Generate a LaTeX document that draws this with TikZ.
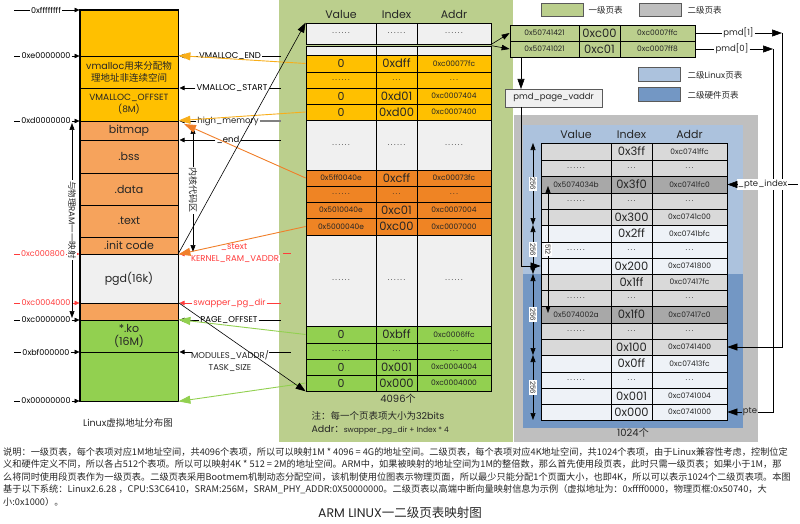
\documentclass[tikz,border=0pt]{standalone}
\usepackage{fontspec}
\setmainfont{Poppins}
\newfontfamily\zh{Noto Sans CJK SC}
\usetikzlibrary{arrows.meta}

\definecolor{panelgreen}{HTML}{BBCF8D}
\definecolor{vmyellow}{HTML}{FFC000}
\definecolor{krnorange}{HTML}{F6A35C}
\definecolor{pteorange}{HTML}{EF8424}
\definecolor{usergreen}{HTML}{92D050}
\definecolor{cellgray}{HTML}{F0F0F0}
\definecolor{panelgray}{HTML}{BFBFBF}
\definecolor{linuxblue}{HTML}{ACC2DD}
\definecolor{hwblue}{HTML}{7397C4}
\definecolor{rowgray}{HTML}{D9D9D9}
\definecolor{rowlight}{HTML}{EEF2F7}
\definecolor{rowdark}{HTML}{A8A8A8}
\definecolor{lblred}{HTML}{FF3B3B}
\definecolor{linkyellow}{HTML}{F8AE1A}
\definecolor{linkorange}{HTML}{F07F2A}
\definecolor{linkgreen}{HTML}{92D050}
\definecolor{boxedge}{HTML}{5A5A5A}

\newcommand\fsz[1]{\fontsize{#1}{#1}\selectfont}

% one block of the virtual address column
\newcommand\colcell[6][]{%
  \node[colcell,#1,fill=#5,minimum height={(#4-#3)*1pt}] (#2) at (129,{(#3+#4)/2}) {#6};}

% one row of the first-level table
\newcommand\mrow[7]{%
  \node[tcell,fill=#4,minimum width=70pt,minimum height={(#3-#2)*1pt}] (#1v) at (341,{(#2+#3)/2}) {#5};
  \node[tcell,fill=#4,minimum width=41pt,minimum height={(#3-#2)*1pt},font=\fsz{11.5}] (#1i) at (396.5,{(#2+#3)/2}) {#6};
  \node[tcell,fill=#4,minimum width=74pt,minimum height={(#3-#2)*1pt}] (#1a) at (454,{(#2+#3)/2}) {#7};}

% one row of the second-level table
\newcommand\rrow[7]{%
  \node[tcell,fill=#4,minimum width=70pt,minimum height={(#3-#2)*1pt}] (#1v) at (576,{(#2+#3)/2}) {#5};
  \node[tcell,fill=#4,minimum width=41pt,minimum height={(#3-#2)*1pt},font=\fsz{11.5}] (#1i) at (631.5,{(#2+#3)/2}) {#6};
  \node[tcell,fill=#4,minimum width=75pt,minimum height={(#3-#2)*1pt}] (#1a) at (689.5,{(#2+#3)/2}) {#7};}

% one row of the pmd pair
\newcommand\prow[5]{%
  \node[tcell,fill=panelgreen,minimum width=69pt,minimum height=16pt] (#1v) at (544.5,#2) {#3};
  \node[tcell,fill=panelgreen,minimum width=41pt,minimum height=16pt,font=\fsz{11.5}] (#1i) at (599.5,#2) {#4};
  \node[tcell,fill=panelgreen,minimum width=75pt,minimum height=16pt] (#1a) at (657.5,#2) {#5};}

% address mark on the left of the column
\newcommand\laddr[5]{%
  \node[addrlbl,text=#4] (#1) at (#3,#2) {#5};
  \coordinate (#1s) at (14,#2);
  \coordinate (#1t) at (79.5,#2);
  \draw[#4,thinline] (#1s) -- (#1.west);
  \draw[#4,thinline,lbltip] (#1.east) -- (#1t);}

% symbol mark on the right of the column
\newcommand\rlab[6]{%
  \node[rlbl,text=#4] (#1) at (#3,#2) {#6};
  \coordinate (#1e) at (#5,#2);
  \coordinate (#1t) at (179.5,#2);
  \draw[#4,thinline] (#1.east) -- (#1e);
  \draw[#4,thinline,lbltip] (#1.west) -- (#1t);}

% span arrow with a rotated count beside the second-level table
\newcommand\entryspan[5]{%
  \coordinate (#1a) at (#2,#3);
  \coordinate (#1b) at (#2,#4);
  \draw[thinline,dimtip] (#1a) -- (#1b);
  \node[vtext,font=\fsz{7}] (#1l) at (#2,{(#3+#4)/2}) {#5};}

\newcommand\dts{{\fsz{7.5}.\kern1.6pt.\kern1.6pt.}}
\newcommand\sixdots{{\fsz{7.5}.\kern1.6pt.\kern1.6pt.\kern1.6pt.\kern1.6pt.\kern1.6pt.}}

\begin{document}
\begin{tikzpicture}[x=1pt,y=-1pt,
  every node/.style={text=black!85},
  colcell/.style={draw=black,line width=0.8pt,minimum width=98pt,inner sep=0pt,align=center,font=\fsz{11}},
  tcell/.style={draw=black,line width=0.7pt,inner sep=0pt,font=\fsz{7.5}},
  addrlbl/.style={inner sep=1pt,font=\fsz{8}},
  rlbl/.style={inner sep=1pt,font=\fsz{8.5}},
  thinline/.style={line width=0.6pt},
  lbltip/.style={-{Triangle[length=5pt,width=4.5pt]}},
  blktip/.style={-{Triangle[length=10pt,width=7pt]}},
  smltip/.style={-{Triangle[length=8pt,width=5.5pt]}},
  link/.style={line width=0.9pt,-{Triangle[length=12pt,width=8pt]}},
  dimtip/.style={{Triangle[length=7pt,width=5pt]}-{Triangle[length=7pt,width=5pt]}},
  legbox/.style={draw=boxedge,line width=0.8pt,minimum width=42pt,minimum height=13pt,inner sep=0pt},
  hdr/.style={font=\fsz{11}},
  vtext/.style={fill=white,inner sep=1pt,rotate=-90},
]
\useasboundingbox (0,0) rectangle (800,524);

% ---------- background panels ----------
\fill[panelgreen] (279,0) rectangle (513,442);
\fill[panelgray] (514,115) rectangle (758,442);
\fill[linuxblue] (523,125) rectangle (743,274);
\fill[hwblue] (523,274) rectangle (743,428);

% ---------- first-level table ----------
\node[hdr] (fh1) at (341,14) {Value};
\node[hdr] (fh2) at (396.5,14) {Index};
\node[hdr] (fh3) at (454,14) {Addr};
\mrow{ma}{23}{44}{cellgray}{\sixdots}{\sixdots}{\sixdots}
\mrow{mb}{46}{55}{cellgray}{}{}{}
\mrow{mc}{55}{72}{vmyellow}{\fsz{11}0}{0xdff}{0xc00077fc}
\mrow{md}{72}{88}{vmyellow}{\sixdots}{\dts}{\dts}
\mrow{me}{88}{104}{vmyellow}{\fsz{11}0}{0xd01}{0xc0007404}
\mrow{mf}{104}{120}{vmyellow}{\fsz{11}0}{0xd00}{0xc0007400}
\mrow{mg}{120}{170}{cellgray}{\sixdots}{\sixdots}{\sixdots}
\mrow{mh}{170}{186}{pteorange}{0x5ff0040e}{0xcff}{0xc00073fc}
\mrow{mi}{186}{202}{pteorange}{\sixdots}{\dts}{\dts}
\mrow{mj}{202}{218}{pteorange}{0x5010040e}{0xc01}{0xc0007004}
\mrow{mk}{218}{235}{pteorange}{0x5000040e}{0xc00}{0xc0007000}
\mrow{ml}{235}{326}{cellgray}{\sixdots}{\sixdots}{\sixdots}
\mrow{mm}{326}{343}{usergreen}{\fsz{11}0}{0xbff}{0xc0006ffc}
\mrow{mn}{343}{359}{usergreen}{\sixdots}{\dts}{\dts}
\mrow{mo}{359}{375}{usergreen}{\fsz{11}0}{0x001}{0xc0004004}
\mrow{mp}{375}{391}{usergreen}{\fsz{11}0}{0x000}{0xc0004000}
\node[font=\fsz{10}] (mcount) at (398,399) {4096{\zh 个}};
\node[anchor=west,font=\fsz{9.5}] (mnote) at (308,416) {{\zh 注：每一个页表项大小为}32bits};
\node[anchor=west,font=\fsz{9.5}] (maddr) at (308,430) {Addr{\zh ：}{\fsz{7.5}swapper\_pg\_dir + Index * 4}};

% ---------- virtual address column ----------
\colcell{ctop}{10}{56}{vmyellow}{}
\colcell[font=\fontsize{9.5}{12}\selectfont]{vmc}{56}{88}{vmyellow}{vmalloc{\zh 用来分配物}\\{\zh 理地址非连续空间}}
\colcell[font=\fontsize{9}{12}\selectfont]{voff}{88}{121}{vmyellow}{VMALLOC\_OFFSET\\(8M)}
\colcell{bmp}{121}{140}{krnorange}{bitmap}
\colcell{bss}{140}{173}{krnorange}{.bss}
\colcell{dat}{173}{205}{krnorange}{.data}
\colcell{txt}{205}{237}{krnorange}{.text}
\colcell{ini}{237}{254}{krnorange}{.init code}
\colcell{pgd}{254}{303}{cellgray}{pgd(16k)}
\colcell{pgl}{303}{320}{krnorange}{}
\colcell[font=\fontsize{11}{13}\selectfont]{kmo}{320}{352}{usergreen}{*.ko\\(16M)}
\colcell{usr}{352}{401}{usergreen}{}
\draw[line width=1.8pt] (ctop.north west) rectangle (usr.south east);
\draw[line width=1.8pt] (kmo.south west) -- (kmo.south east);
\node[font=\fsz{9.5}] (colcap) at (128,423) {Linux{\zh 虚拟地址分布图}};

% ---------- addresses on the left ----------
\laddr{aff}{10}{46}{black}{0xffffffff}
\laddr{ae0}{56}{46}{black}{0xe0000000}
\laddr{ad0}{121}{46}{black}{0xd0000000}
\laddr{a08}{254}{43}{lblred}{0xc000800}
\laddr{a04}{303}{46}{lblred}{0xc0004000}
\laddr{ac0}{320}{46}{black}{0xc0000000}
\laddr{abf}{352}{46}{black}{0xbf000000}
\laddr{a00}{401}{46}{black}{0x00000000}

\coordinate (rmt) at (72,123);
\coordinate (rmb) at (72,318);
\draw[thinline,dimtip] (rmt) -- (rmb);
\node[vtext,font=\fsz{8.5}] (rmlbl) at (72,220) {{\zh 与物理}RAM{\zh 一一映射}};
\coordinate (kct) at (193,127);
\coordinate (kcb) at (193,252);
\draw[thinline,dimtip] (kct) -- (kcb);
\node[vtext,font=\fsz{9}] (kclbl) at (193,190) {{\zh 内核代码区}};

% ---------- symbols on the right ----------
\rlab{lve}{56}{230}{black}{281}{VMALLOC\_END}
\rlab{lvs}{88}{232}{black}{281}{VMALLOC\_START}
\node[rlbl] (lhm) at (228,121) {high\_memory};
\coordinate (lhme) at (281,121);
\coordinate (lhmt) at (179.5,121);
\draw[gray,line width=1.5pt] (lhm.east) -- (lhme);
\draw[thinline,lbltip] (lhm.west) -- (lhmt);
\rlab{lend}{140}{228}{black}{281}{\_end}
\node[rlbl,text=lblred] (lst) at (234,247) {\_stext};
\node[rlbl,text=lblred,fill=white] (lkr) at (235,259) {KERNEL\_RAM\_VADDR};
\coordinate (lkrs) at (188,254);
\coordinate (lkrt) at (179.5,254);
\draw[lblred,thinline,lbltip] (lkrs) -- (lkrt);
\coordinate (lkre) at (283,253);
\coordinate (lkrf) at (291,253);
\draw[lblred,thinline] (lkre) -- (lkrf);
\rlab{lsw}{303}{229.5}{lblred}{281}{swapper\_pg\_dir}
\rlab{lpo}{320}{229}{black}{281}{PAGE\_OFFSET}
\node[rlbl,align=center,font=\fontsize{8.5}{12}\selectfont] (lmv) at (230,361) {MODULES\_VADDR/\\TASK\_SIZE};
\coordinate (lmvs) at (192,352);
\coordinate (lmvt) at (179.5,352);
\coordinate (lmve) at (269,352);
\coordinate (lmvf) at (291,352);
\draw[thinline,lbltip] (lmvs) -- (lmvt);
\draw[thinline] (lmve) -- (lmvf);

% ---------- entries pointing back into the column ----------
\coordinate (hmo) at (184,124);
\draw[linkyellow,link] (mcv.west) -- (vmc.north east);
\draw[linkyellow,link] (mfv.west) -- (bmp.north east);
\draw[linkorange,link] (mhv.west) -- (hmo);
\draw[linkorange,link] (mkv.west) -- (ini.south east);
\draw[linkgreen,link] (mmv.west) -- (kmo.north east);
\draw[linkgreen,link] (mpv.west) -- (usr.south east);
\draw[thinline,blktip] (pgd.north east) -- (mav.north west);
\draw[thinline,blktip] (pgl.north east) -- (mpv.south west);

% ---------- legend ----------
\node[legbox,fill=panelgreen] (lg1) at (562,9.5) {};
\node[anchor=west,font=\fsz{8.5}] (lg1t) at (585,10) {\zh 一级页表};
\node[legbox,fill=panelgray] (lg2) at (660.5,9.5) {};
\node[anchor=west,font=\fsz{8.5}] (lg2t) at (684,10) {\zh 二级页表};
\node[legbox,fill=linuxblue,minimum height=14pt] (lg3) at (659,74) {};
\node[anchor=west,font=\fsz{8.5}] (lg3t) at (684,75) {{\zh 二级}Linux{\zh 页表}};
\node[legbox,fill=hwblue,minimum height=14pt] (lg4) at (659,94.5) {};
\node[anchor=west,font=\fsz{8.5}] (lg4t) at (684,95) {\zh 二级硬件页表};

% ---------- pmd pair ----------
\prow{pa}{33}{0x50741421}{0xc00}{0xc0007ffc}
\prow{pb}{49}{0x50741021}{0xc01}{0xc0007ff8}
\draw[thinline,smltip] (maa.south east) -- (pav.west);
\draw[thinline,smltip] (mba.north east) -- (pbv.west);

\node[draw=boxedge,fill=cellgray,line width=0.7pt,minimum width=97pt,minimum height=18pt,inner sep=0pt,font=\fsz{8.5}] (ppv) at (553.5,98) {pmd\_page\_vaddr};
\coordinate (pvs) at (521,57);
\coordinate (ppvin) at (521,89);
\coordinate (ppvout) at (521,107);
\draw[thinline,blktip] (pvs) -- (ppvin);

% ---------- second-level tables ----------
\node[hdr] (sh1) at (576,134) {Value};
\node[hdr] (sh2) at (631.5,134) {Index};
\node[hdr] (sh3) at (689.5,134) {Addr};
\rrow{ra}{143}{160}{rowgray}{}{0x3ff}{0xc0741ffc}
\rrow{rb}{160}{176}{rowgray}{\sixdots}{\dts}{\dts}
\rrow{rc}{176}{193}{rowdark}{0x5074034b}{0x3f0}{0xc0741fc0}
\rrow{rd}{193}{209}{rowgray}{\sixdots}{\dts}{\dts}
\rrow{re}{209}{225}{rowgray}{}{0x300}{0xc0741c00}
\rrow{rf}{225}{242}{rowlight}{}{0x2ff}{0xc0741bfc}
\rrow{rg}{242}{258}{rowlight}{\sixdots}{\dts}{\dts}
\rrow{rh}{258}{274}{rowlight}{}{0x200}{0xc0741800}
\rrow{ri}{274}{290}{rowgray}{}{0x1ff}{0xc07417fc}
\rrow{rj}{290}{306}{rowgray}{\sixdots}{\dts}{\dts}
\rrow{rk}{306}{323}{rowdark}{0x5074002a}{0x1f0}{0xc07417c0}
\rrow{rl}{323}{339}{rowgray}{\sixdots}{\dts}{\dts}
\rrow{rm}{339}{355}{rowgray}{}{0x100}{0xc0741400}
\rrow{rn}{355}{372}{rowlight}{}{0x0ff}{0xc07413fc}
\rrow{ro}{372}{388}{rowlight}{\sixdots}{\dts}{\dts}
\rrow{rp}{388}{404}{rowlight}{}{0x001}{0xc0741004}
\rrow{rq}{404}{420}{rowlight}{}{0x000}{0xc0741000}
\node[font=\fsz{10}] (rcount) at (633,433) {1024{\zh 个}};

\draw[thinline,blktip] (ppvout) |- (rhv.west);

% spans of 256 entries and the 512 gap
\entryspan{sa}{533}{143}{225}{256}
\entryspan{sb}{533}{225}{274}{256}
\entryspan{sc}{533}{274}{355}{256}
\entryspan{sd}{533}{355}{420}{256}
\entryspan{se}{548}{186}{313}{512}

% ---------- pmd entries into the hardware tables ----------
\node[rlbl] (pmdA) at (738.5,33) {pmd[1]};
\node[rlbl] (pmdB) at (732,49) {pmd[0]};
\coordinate (pmdAc) at (782,33);
\coordinate (pmdAd) at (782,347);
\coordinate (pmdBc) at (773,49);
\coordinate (pmdBd) at (773,412);
\draw[thinline] (paa.east) -- (pmdA.west);
\draw[thinline] (pba.east) -- (pmdB.west);
\draw[thinline,blktip] (pmdA.east) -- (pmdAc);
\draw[thinline,blktip] (pmdB.east) -- (pmdBc);
\draw[thinline,blktip] (pmdAc) -- (pmdAd) -- (rma.east);
\node[rlbl] (pten) at (750,412) {pte};
\draw[thinline] (pmdBc) -- (pmdBd) -- (pten.east);
\draw[thinline,blktip] (pten.west) -- (rqa.east);
\node[rlbl,fill=white] (ptx) at (762.5,184.5) {\_pte\_index};
\coordinate (ptxe) at (798,184.5);
\draw[thinline] (ptx.east) -- (ptxe);
\draw[thinline,blktip] (ptx.west) -- (rca.east);

% ---------- notes ----------
\begin{scope}[every node/.style={anchor=base west,inner sep=0pt,text=black!85,font=\zh\fsz{9.2}}]
\node (nl1) at (3,455) {说明：一级页表，每个表项对应1M地址空间，共4096个表项，所以可以映射1M * 4096 = 4G的地址空间。二级页表，每个表项对应4K地址空间，共1024个表项，由于Linux兼容性考虑，控制位定};
\node (nl2) at (3,467.5) {义和硬件定义不同，所以各占512个表项。所以可以映射4K * 512 = 2M的地址空间。ARM中，如果被映射的地址空间为1M的整倍数，那么首先使用段页表，此时只需一级页表；如果小于1M，那};
\node (nl3) at (3,480) {么将同时使用段页表作为一级页表。二级页表采用Bootmem机制动态分配空间，该机制使用位图表示物理页面，所以最少只能分配1个页面大小，也即4K，所以可以表示1024个二级页表项。本图};
\node (nl4) at (3,492.5) {基于以下系统：Linux2.6.28 ，CPU:S3C6410，SRAM:256M，SRAM\_PHY\_ADDR:0X50000000。二级页表以高端中断向量映射信息为示例（虚拟地址为：0xffff0000，物理页框:0x50740，大};
\node (nl5) at (3,505) {小:0x1000）。};
\end{scope}
\node[font=\fsz{12.5}] (ttl) at (400,513) {ARM LINUX{\zh 一二级页表映射图}};
\end{tikzpicture}
\end{document}
